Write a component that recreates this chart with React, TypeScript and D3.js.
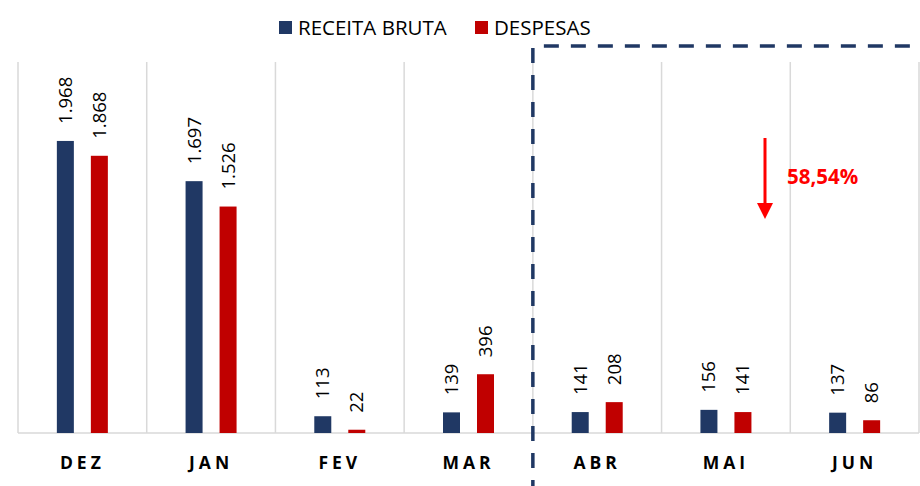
import React from "react";
import * as d3 from "d3";

const months = ["DEZ", "JAN", "FEV", "MAR", "ABR", "MAI", "JUN"];
const receita = [1968, 1697, 113, 139, 141, 156, 137];
const despesas = [1868, 1526, 22, 396, 208, 141, 86];
const seriesNames = ["RECEITA BRUTA", "DESPESAS"];
const seriesColors = ["#203864", "#c00000"];
const highlightFrom = "ABR";
const dropLabel = "58,54%";

const W = 920;
const H = 486;
const left = 18;
const right = 919;
const top = 62;
const bottom = 433;
const font = "'Open Sans', 'Liberation Sans', sans-serif";

const fmt = d3.formatLocale({ decimal: ",", thousands: ".", grouping: [3], currency: ["R$", ""] }).format(",d");

export default function App() {
  const x = d3.scaleBand<string>().domain(months).range([left, right]);
  const inner = d3.scaleBand<number>().domain([0, 1]).range([-25.5, 25.5]).paddingInner(0.5);
  const y = d3.scaleLinear().domain([0, 2500]).range([bottom, top]);
  const series = [receita, despesas];
  const gridXs = months.map((m) => x(m)!).concat([right]);
  const boxX = x(highlightFrom)!;
  const arrowX = 765;

  return (
    <svg width={W} height={H} style={{ position: "absolute", left: 0, top: 0, background: "#fff" }}>
      {/* vertical gridlines */}
      {gridXs.map((gx, i) => (
        <line key={i} x1={gx} x2={gx} y1={top} y2={bottom} stroke="#d9d9d9" strokeWidth={1.5} />
      ))}
      <line x1={left} x2={right} y1={bottom} y2={bottom} stroke="#d9d9d9" strokeWidth={1.5} />

      {/* bars */}
      {months.map((m, i) => (
        <g key={m} transform={`translate(${x(m)! + x.bandwidth() / 2},0)`}>
          {series.map((s, j) => {
            const bx = inner(j)!;
            const v = s[i];
            return (
              <g key={j}>
                <rect x={bx} y={y(v)} width={inner.bandwidth()} height={bottom - y(v)} fill={seriesColors[j]} />
                <text
                  transform={`translate(${bx + inner.bandwidth() / 2 + 6.5},${y(v) - 17}) rotate(-90)`}
                  fontFamily={font}
                  fontSize={18.5}
                  fill="#000"
                >
                  {fmt(v)}
                </text>
              </g>
            );
          })}
          <text
            y={469}
            textAnchor="middle"
            fontFamily={font}
            fontWeight="bold"
            fontSize={17.5}
            letterSpacing={4}
            fill="#000"
          >
            {m}
          </text>
        </g>
      ))}

      {/* dashed highlight box */}
      <line x1={boxX} x2={boxX} y1={48} y2={H} stroke="#203864" strokeWidth={3.5} strokeDasharray="15 12" />
      <line x1={boxX + 11} x2={W} y1={46} y2={46} stroke="#203864" strokeWidth={3.5} strokeDasharray="15 12" />

      {/* drop arrow */}
      <line x1={arrowX} x2={arrowX} y1={138} y2={205} stroke="#ff0000" strokeWidth={3} />
      <path d={`M${arrowX - 8},203L${arrowX + 8},203L${arrowX},219Z`} fill="#ff0000" />
      <text x={787} y={184} fontFamily={font} fontWeight="bold" fontSize={20.5} fill="#ff0000">
        {dropLabel}
      </text>

      {/* legend */}
      <g fontFamily={font} fontSize={20.5}>
        <rect x={279} y={21} width={13} height={13} fill={seriesColors[0]} />
        <text x={298} y={35} fill="#000">{seriesNames[0]}</text>
        <rect x={475} y={21} width={13} height={13} fill={seriesColors[1]} />
        <text x={494} y={35} fill="#000">{seriesNames[1]}</text>
      </g>
    </svg>
  );
}
